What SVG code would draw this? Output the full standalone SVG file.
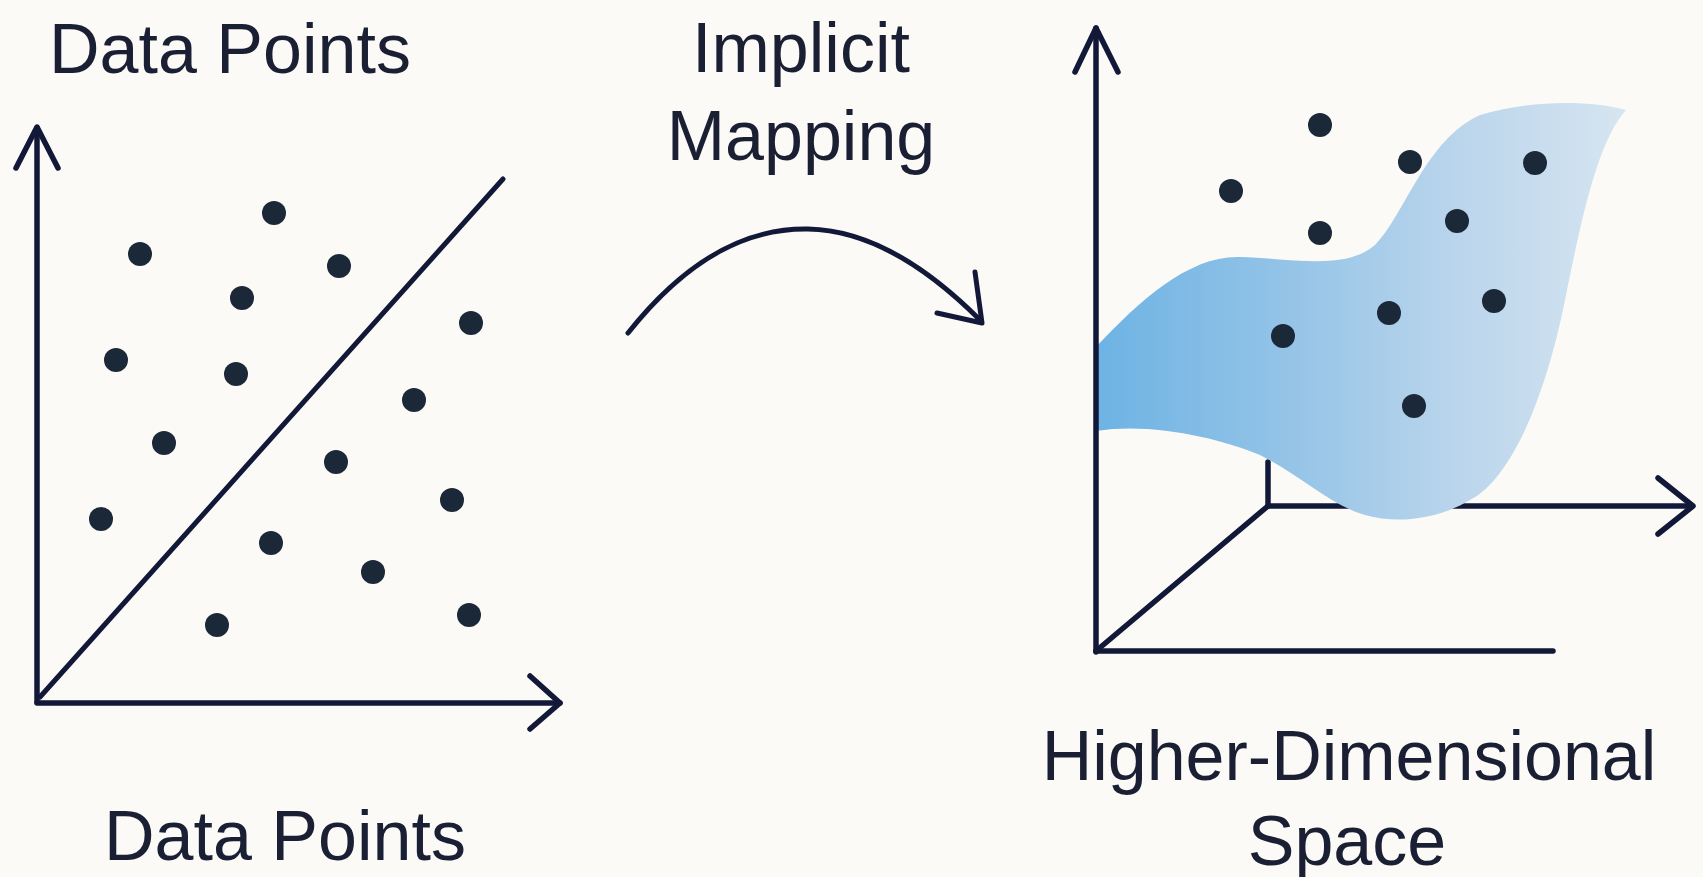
<svg xmlns="http://www.w3.org/2000/svg" width="1703" height="877" viewBox="0 0 1703 877">
<style>
.t{font-family:"Liberation Sans",Arial,sans-serif;font-size:70px;fill:#1a1f33;text-anchor:middle}
.ax{stroke:#121838;stroke-width:5.5;fill:none;stroke-linecap:round;stroke-linejoin:round}
.ln{stroke:#121838;stroke-width:5;fill:none;stroke-linecap:round;stroke-linejoin:round}
.d{fill:#1b2838}
</style>
<defs>
<linearGradient id="surf" x1="0" y1="0.5" x2="1" y2="0.5">
<stop offset="0" stop-color="#6db3e4"/>
<stop offset="0.35" stop-color="#93c3e7"/>
<stop offset="0.7" stop-color="#bcd6ec"/>
<stop offset="1" stop-color="#d6e5f1"/>
</linearGradient>
</defs>
<rect width="1703" height="877" fill="#fbfaf6"/>

<g id="left-plot">
<line class="ax" x1="37" y1="702" x2="37" y2="128"/>
<polyline class="ax" points="16,168 37,127 58,168"/>
<line class="ax" x1="37" y1="703" x2="560" y2="703"/>
<polyline class="ax" points="530,676 560,703 530,729"/>
<line class="ln" x1="40" y1="697" x2="503" y2="179"/>
<g id="left-dots">
<circle class="d" cx="274" cy="213" r="12"/>
<circle class="d" cx="140" cy="254" r="12"/>
<circle class="d" cx="339" cy="266" r="12"/>
<circle class="d" cx="242" cy="298" r="12"/>
<circle class="d" cx="471" cy="323" r="12"/>
<circle class="d" cx="116" cy="360" r="12"/>
<circle class="d" cx="236" cy="374" r="12"/>
<circle class="d" cx="414" cy="400" r="12"/>
<circle class="d" cx="164" cy="443" r="12"/>
<circle class="d" cx="336" cy="462" r="12"/>
<circle class="d" cx="452" cy="500" r="12"/>
<circle class="d" cx="101" cy="519" r="12"/>
<circle class="d" cx="271" cy="543" r="12"/>
<circle class="d" cx="373" cy="572" r="12"/>
<circle class="d" cx="469" cy="615" r="12"/>
<circle class="d" cx="217" cy="625" r="12"/>
</g>
</g>

<g id="label-top-left"><text class="t" x="230" y="73">Data Points</text></g>
<g id="label-bottom-left"><text class="t" x="285" y="860">Data Points</text></g>
<g id="label-mapping"><text class="t" x="801" y="72">Implicit</text><text class="t" x="801" y="160">Mapping</text></g>
<g id="label-space"><text class="t" x="1349" y="780">Higher-Dimensional</text><text class="t" x="1347" y="865">Space</text></g>

<g id="connectors">
<path class="ln" d="M 628 333 C 690 255, 750 228, 808 229 C 870 230, 930 270, 980 320"/>
<path class="ln" d="M 975 272 L 982 323 L 937 313"/>
</g>

<g id="right-plot">
<line class="ax" x1="1096" y1="651" x2="1553" y2="651"/>
<line class="ax" x1="1096" y1="651" x2="1268" y2="506"/>
<line class="ax" x1="1268" y1="506" x2="1268" y2="462"/>
<line class="ax" x1="1268" y1="506" x2="1692" y2="506"/>
<polyline class="ax" points="1658,478 1693,506 1658,534"/>
<path id="surface" fill="url(#surf)" d="M 1096 347 C 1140 300, 1190 255, 1240 257 C 1300 259, 1345 270, 1375 245 C 1405 215, 1425 140, 1480 115 C 1530 100, 1590 100, 1626 110 C 1600 140, 1585 200, 1565 300 C 1545 400, 1510 480, 1470 500 C 1440 518, 1400 525, 1365 515 C 1330 505, 1300 475, 1260 455 C 1220 438, 1150 422, 1096 431 Z"/>
<line class="ax" x1="1096" y1="652" x2="1096" y2="28"/>
<polyline class="ax" points="1075,72 1096,28 1118,72"/>
<g id="right-dots">
<circle class="d" cx="1320" cy="125" r="12"/>
<circle class="d" cx="1410" cy="162" r="12"/>
<circle class="d" cx="1535" cy="163" r="12"/>
<circle class="d" cx="1231" cy="191" r="12"/>
<circle class="d" cx="1320" cy="233" r="12"/>
<circle class="d" cx="1457" cy="221" r="12"/>
<circle class="d" cx="1494" cy="301" r="12"/>
<circle class="d" cx="1389" cy="313" r="12"/>
<circle class="d" cx="1283" cy="336" r="12"/>
<circle class="d" cx="1414" cy="406" r="12"/>
</g>
</g>
</svg>
